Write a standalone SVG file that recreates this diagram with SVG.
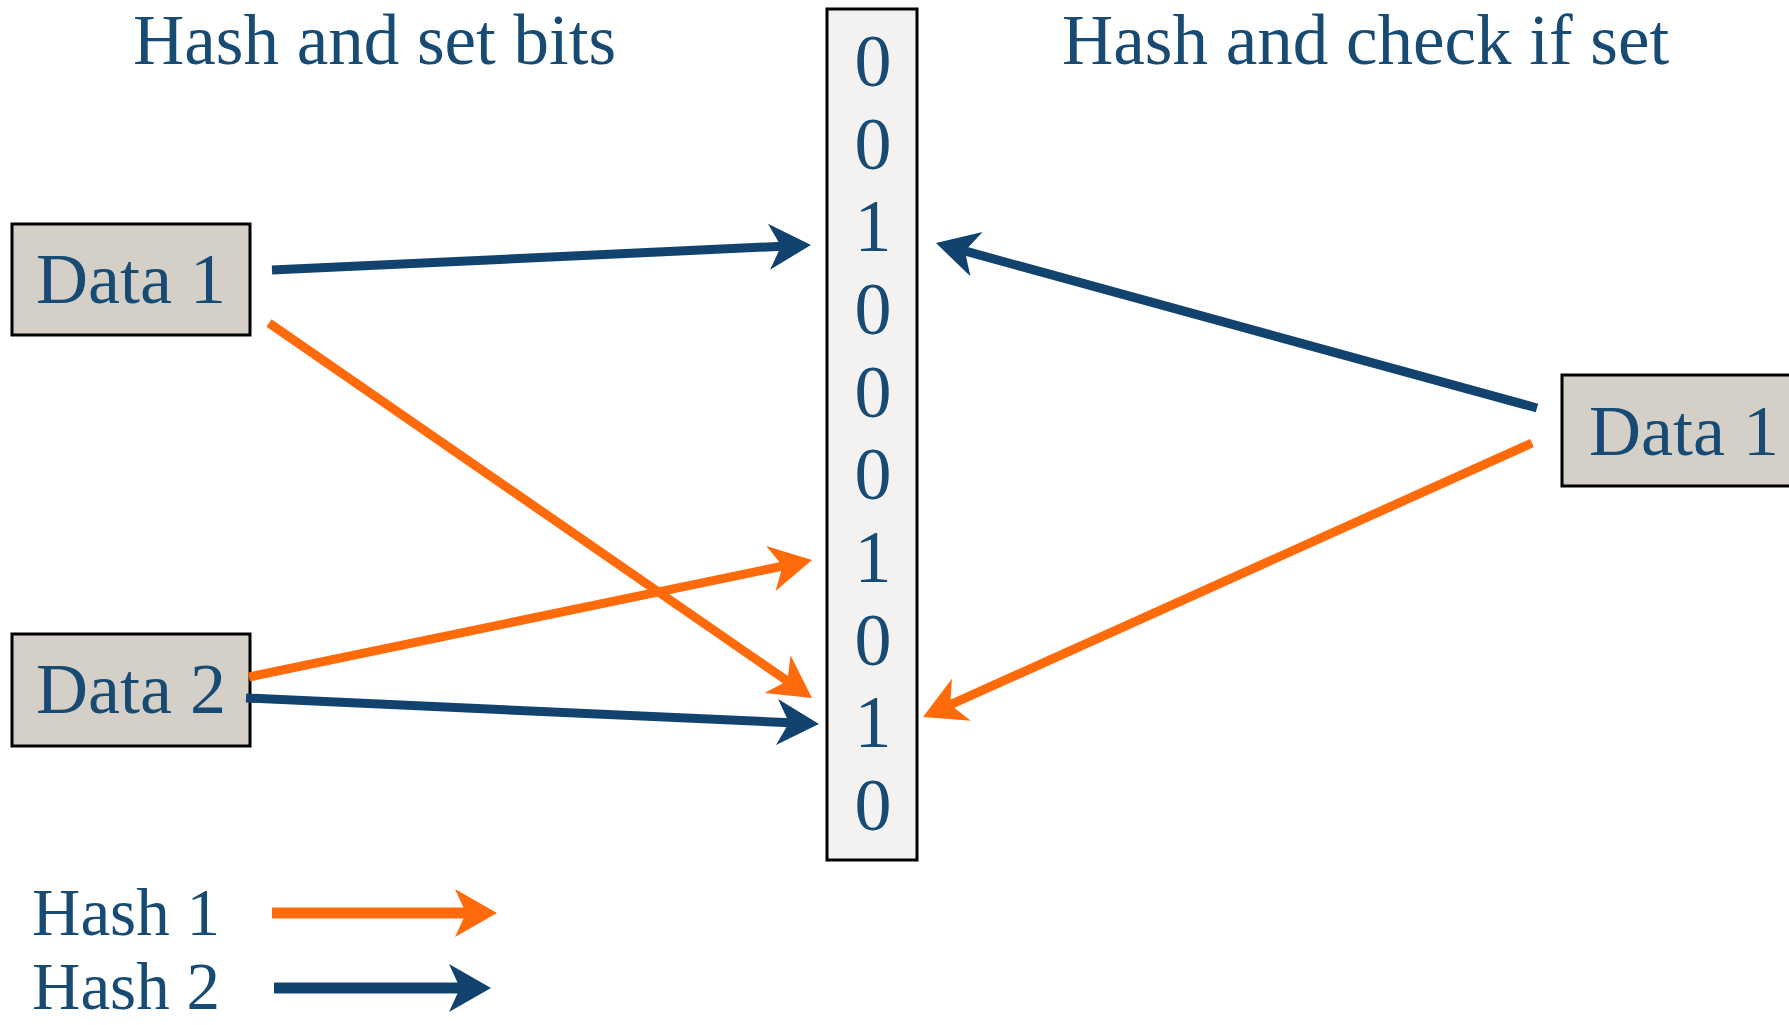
<svg xmlns="http://www.w3.org/2000/svg" width="1789" height="1025" viewBox="0 0 1789 1025">
<style>
.t{font-family:"Liberation Serif","Times New Roman",serif;fill:#174b74}
.title{font-size:71px}
.lbl{font-size:72px}
.leg{font-size:67px}
.bit{font-size:74px;text-anchor:middle}
.box{fill:#d4d0c8;stroke:#000;stroke-width:3}
.bits{fill:#f4f2f0;stroke:#000;stroke-width:3}
.b{stroke:#12436e;stroke-width:9;fill:none}
.o{stroke:#ff6a0a;stroke-width:9;fill:none}
.lb{stroke:#12436e;stroke-width:11;fill:none}
.lo{stroke:#ff6a0a;stroke-width:11;fill:none}
</style>
<defs>
<marker id="hb" markerUnits="userSpaceOnUse" markerWidth="46" markerHeight="50" viewBox="0 -25 46 50" refX="18" refY="0" orient="auto" overflow="visible"><path d="M0,-23 L42,0 L0,23 L12,0 Z" fill="#12436e"/></marker>
<marker id="ho" markerUnits="userSpaceOnUse" markerWidth="46" markerHeight="50" viewBox="0 -25 46 50" refX="18" refY="0" orient="auto" overflow="visible"><path d="M0,-23 L42,0 L0,23 L12,0 Z" fill="#ff6a0a"/></marker>
<marker id="lhb" markerUnits="userSpaceOnUse" markerWidth="46" markerHeight="50" viewBox="0 -25 46 50" refX="16" refY="0" orient="auto" overflow="visible"><path d="M0,-24 L42,0 L0,24 L11,0 Z" fill="#12436e"/></marker>
<marker id="lho" markerUnits="userSpaceOnUse" markerWidth="46" markerHeight="50" viewBox="0 -25 46 50" refX="16" refY="0" orient="auto" overflow="visible"><path d="M0,-24 L42,0 L0,24 L11,0 Z" fill="#ff6a0a"/></marker>
</defs>
<rect width="1789" height="1025" fill="#fff"/>
<g id="titles">
<text class="t title" x="133" y="64">Hash and set bits</text>
<text class="t title" x="1062" y="64">Hash and check if set</text>
</g>
<g id="bitarray">
<rect class="bits" x="827" y="9" width="90" height="851"/>
<text class="t bit" x="873" y="86">0</text>
<text class="t bit" x="873" y="169">0</text>
<text class="t bit" x="873" y="251">1</text>
<text class="t bit" x="873" y="334">0</text>
<text class="t bit" x="873" y="417">0</text>
<text class="t bit" x="873" y="499">0</text>
<text class="t bit" x="873" y="582">1</text>
<text class="t bit" x="873" y="665">0</text>
<text class="t bit" x="873" y="747">1</text>
<text class="t bit" x="873" y="830">0</text>
</g>
<g id="data1-left">
<rect class="box" x="12" y="224" width="238" height="111"/>
<text class="t lbl" x="131" y="303" text-anchor="middle">Data 1</text>
</g>
<g id="data2-left">
<rect class="box" x="12" y="634" width="238" height="112"/>
<text class="t lbl" x="131" y="713" text-anchor="middle">Data 2</text>
</g>
<g id="data1-right">
<rect class="box" x="1562" y="375" width="240" height="111"/>
<text class="t lbl" x="1589" y="455">Data 1</text>
</g>
<g id="connectors">
<line class="b" x1="272" y1="270" x2="787" y2="246" marker-end="url(#hb)"/>
<line class="o" x1="269" y1="323" x2="792.3" y2="684.4" marker-end="url(#ho)"/>
<line class="o" x1="249" y1="677" x2="788.5" y2="564.9" marker-end="url(#ho)"/>
<line class="b" x1="246" y1="698" x2="795" y2="722.9" marker-end="url(#hb)"/>
<line class="b" x1="1537" y1="408" x2="959.1" y2="249.4" marker-end="url(#hb)"/>
<line class="o" x1="1532" y1="443" x2="944.9" y2="707.2" marker-end="url(#ho)"/>
</g>
<g id="legend">
<text class="t leg" x="32" y="935">Hash 1</text>
<text class="t leg" x="32" y="1009">Hash 2</text>
<line class="lo" x1="272" y1="913" x2="471" y2="913" marker-end="url(#lho)"/>
<line class="lb" x1="274" y1="988" x2="465" y2="988" marker-end="url(#lhb)"/>
</g>
</svg>
